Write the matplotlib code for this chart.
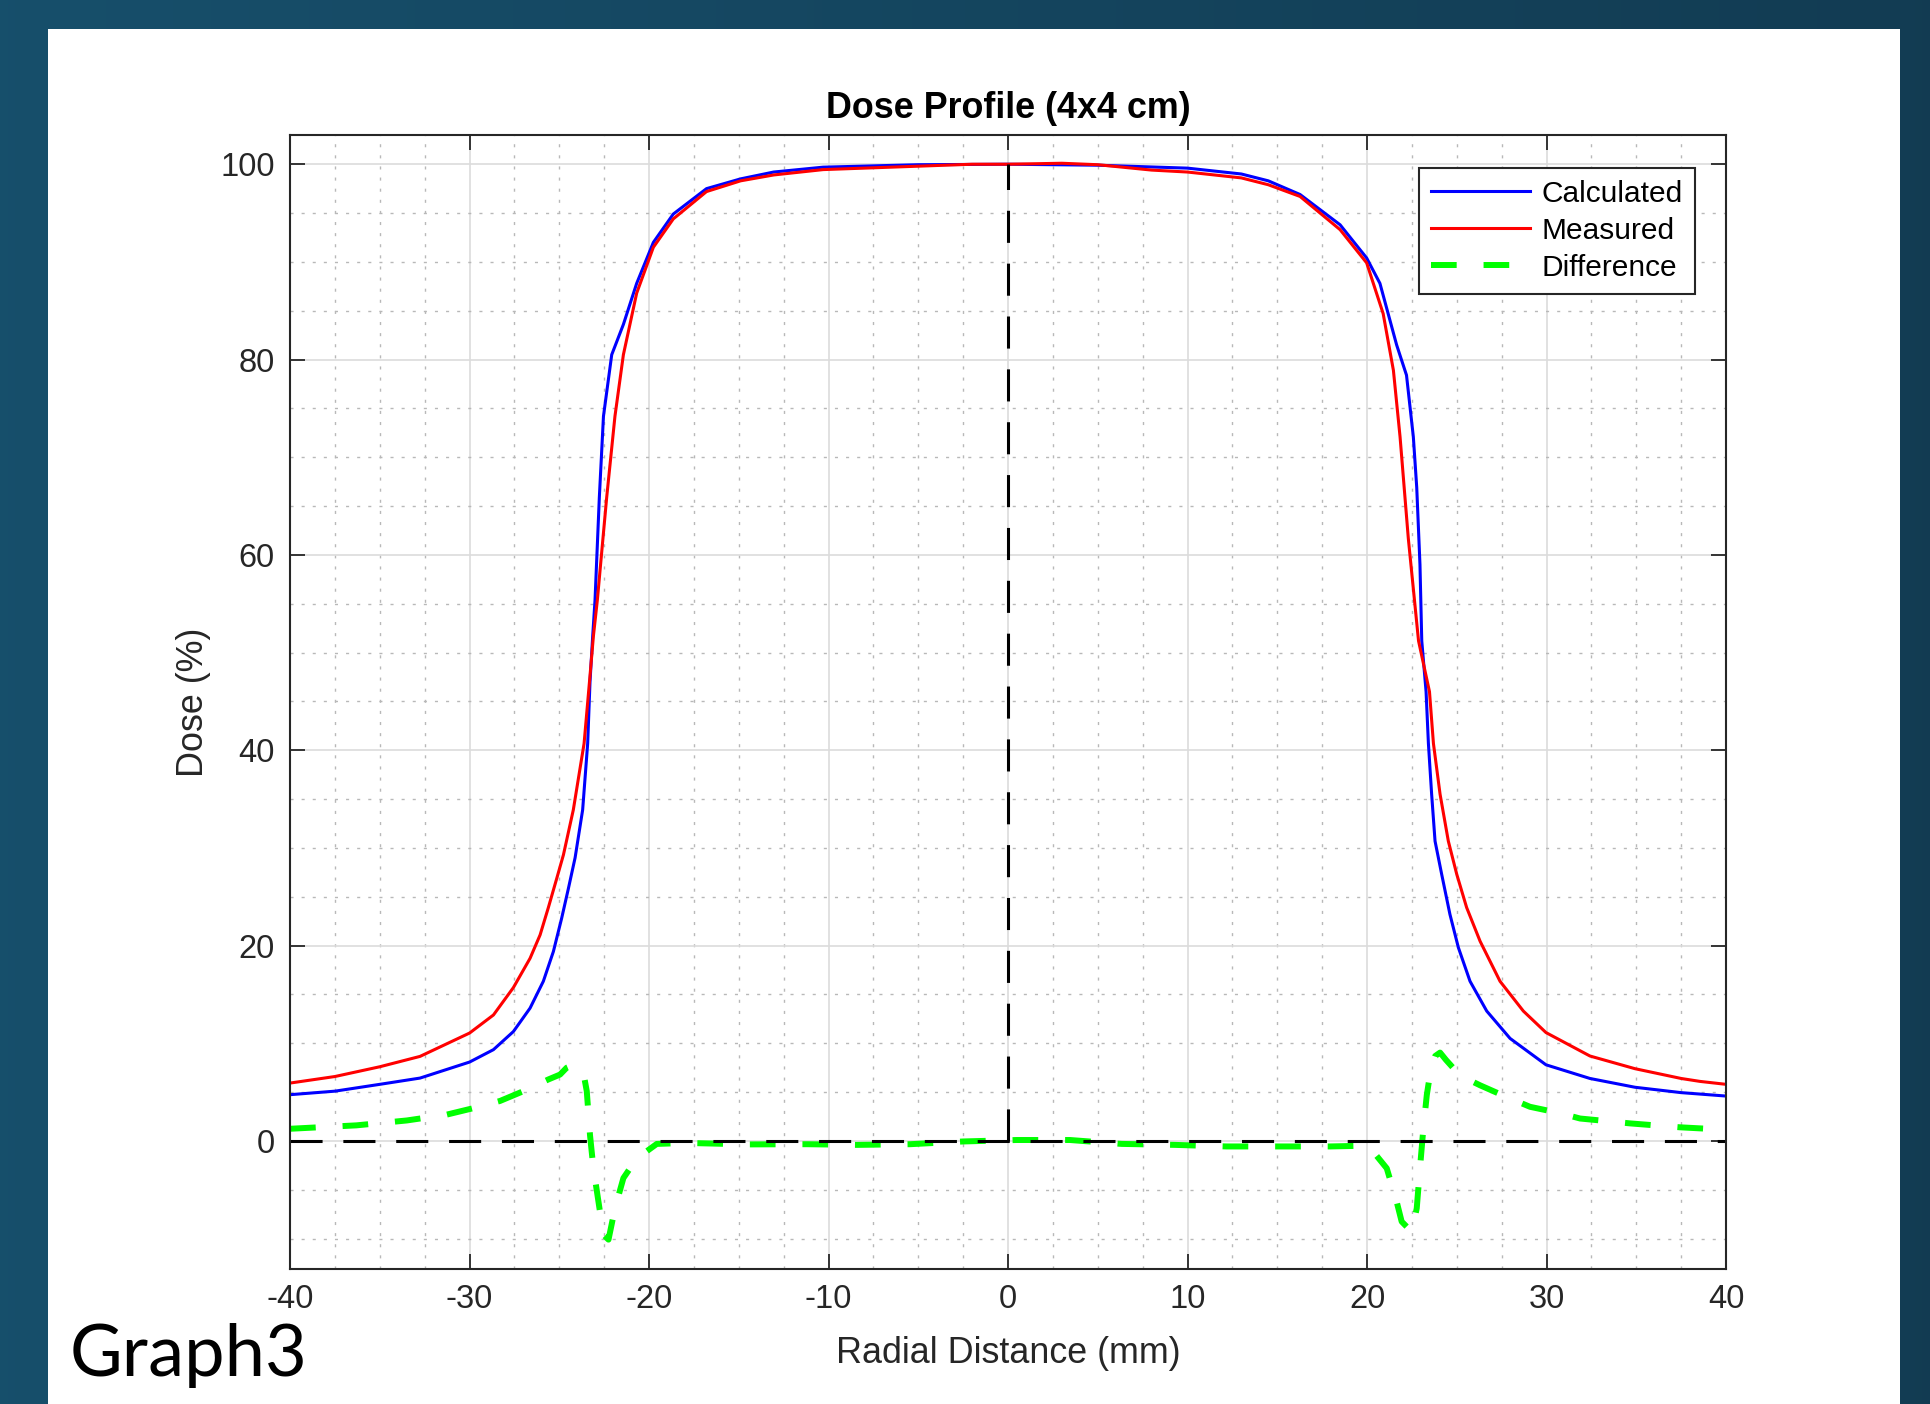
import numpy as np
import matplotlib.pyplot as plt
from matplotlib.patches import Rectangle
from matplotlib.ticker import MultipleLocator

# values
calc_x = [-40, -37.5, -35, -32.76, -30, -28.67, -27.56, -26.63, -25.89, -25.33,
          -24.87, -24.5, -24.12, -23.7, -23.42, -23.29, -23.14, -23.01, -22.77,
          -22.54, -22.08, -21.43, -20.69, -19.76, -18.65, -16.8, -14.9, -13.06,
          -10.3, -5, 0, 5, 10, 13, 14.5, 16.27, 18.5, 19.98, 20.72, 21.65, 22.2,
          22.58, 22.77, 22.95, 23.05, 23.29, 23.42, 23.6, 23.79, 24.16, 24.62,
          25.09, 25.74, 26.67, 27.97, 29.97, 32.42, 34.93, 37.5, 40]
calc_y = [4.74, 5.1, 5.8, 6.44, 8.08, 9.35, 11.2, 13.6, 16.35, 19.4,
          22.8, 25.8, 29.0, 33.9, 40.7, 47.0, 51.7, 55.4, 65.9,
          74.2, 80.5, 83.6, 87.8, 92.0, 94.9, 97.5, 98.5, 99.2,
          99.7, 99.95, 100, 99.9, 99.6, 99.0, 98.3, 96.9, 93.8, 90.4, 87.8, 81.5, 78.4,
          72.1, 66.9, 59.0, 51.2, 46.0, 40.7, 35.5, 30.7, 27.3, 23.2,
          19.8, 16.35, 13.3, 10.5, 7.8, 6.4, 5.5, 4.95, 4.6]

meas_x = [-40, -37.5, -35, -32.76, -30, -28.67, -27.56, -26.63, -26.07, -25.61,
          -25.14, -24.77, -24.22, -23.62, -23.32, -23.1, -22.88, -22.36, -21.9,
          -21.43, -20.69, -19.76, -18.65, -16.8, -14.9, -13.06, -10.3, -5, -2, 0,
          3, 5, 8, 10, 13, 14.5, 16.27, 18.5, 19.98, 20.9, 21.47, 21.84, 22.3,
          22.87, 23.48, 23.7, 24.07, 24.53, 25.0, 25.55, 26.3, 27.41, 28.71,
          29.97, 32.42, 34.93, 37.5, 38.55, 40]
meas_y = [5.93, 6.6, 7.6, 8.66, 11.05, 12.9, 15.7, 18.7, 21.1, 23.9,
          26.9, 29.3, 33.9, 40.7, 47.0, 51.7, 55.4, 65.9, 74.2,
          80.5, 86.8, 91.5, 94.4, 97.2, 98.3, 98.9, 99.45, 99.8, 100, 100,
          100.1, 99.95, 99.4, 99.2, 98.6, 97.9, 96.7, 93.3, 89.9, 84.7, 78.9, 72.1, 61.7,
          51.2, 46.0, 40.7, 35.5, 30.7, 27.3, 23.9, 20.45, 16.35, 13.3,
          11.1, 8.7, 7.4, 6.4, 6.1, 5.8]

diff_x = [-40, -36.3, -33.5, -31.27, -29.79, -28.3, -27.0, -25.61, -24.96, -24.59,
          -24.2, -23.84, -23.66, -23.47, -23.29, -23.1, -22.82, -22.54, -22.26,
          -21.9, -21.43, -20.69, -19.57, -17.9, -14.5, -11.2, -8.43, -5.46, -2.5,
          0.48, 3.45, 6.33, 9.3, 12.18, 15.15, 17.94, 19.5, 20.26, 21.1, 21.65,
          21.93, 22.49, 22.77, 22.95, 23.14, 23.33, 23.55, 23.8, 24.07, 24.4,
          25.18, 26.3, 27.78, 29.08, 30.75, 31.87, 33.0, 34.66, 37.44, 40]
diff_y = [1.25, 1.6, 2.1, 2.7, 3.36, 4.1, 5.1, 6.3, 6.8, 7.5,
          7.8, 7.4, 7.0, 5.1, 0.6, -2.8, -6.2, -9.6, -10.1,
          -6.9, -3.8, -1.8, -0.3, -0.2, -0.35, -0.33, -0.4, -0.33, -0.05,
          0.1, 0.1, -0.3, -0.4, -0.56, -0.56, -0.56, -0.5, -0.9, -2.8, -6.2,
          -8.25, -9.3, -6.9, -2.8, 1.3, 4.7, 7.3, 8.7, 9.05, 8.3,
          6.7, 5.7, 4.5, 3.5, 2.85, 2.3, 2.1, 1.8, 1.4, 1.15]

x_range = (-40, 40)
center_top = 100

plt.rcParams['font.family'] = ['Liberation Sans', 'DejaVu Sans']
plt.rcParams['axes.unicode_minus'] = False

fig = plt.figure(figsize=(19.3, 14.04), dpi=100)

# slide background: dark teal gradient
bg = fig.add_axes([0, 0, 1, 1], zorder=-2)
t = np.linspace(0, 1, 256)
left_c = np.array([0.090, 0.310, 0.420])
right_c = np.array([0.072, 0.235, 0.325])
grad = left_c[None, :] * (1 - t[:, None]) + right_c[None, :] * t[:, None]
bg.imshow(grad[None, :, :], aspect='auto', extent=[0, 1, 0, 1])
bg.axis('off')

fig.add_artist(Rectangle((0.0249, 0), 0.9596, 0.979, transform=fig.transFigure,
                         facecolor='white', edgecolor='none', zorder=-1))

ax = fig.add_axes([0.1503, 0.0962, 0.744, 0.8077])
ax.plot(calc_x, calc_y, color='#0000ff', lw=2.2, label='Calculated')
ax.plot(meas_x, meas_y, color='#ff0000', lw=2.2, label='Measured')
ax.plot(diff_x, diff_y, color='#00ff00', lw=4.3, dashes=(4.3, 4.5), label='Difference')
ax.plot(x_range, [0, 0], color='black', lw=2.2, dashes=(10.5, 6.8))
ax.plot([0, 0], [0, center_top], color='black', lw=2.2, dashes=(10.5, 6.8))

ax.set_xlim(*x_range)
ax.set_ylim(-13.1, 103)
ax.xaxis.set_major_locator(MultipleLocator(10))
ax.xaxis.set_minor_locator(MultipleLocator(2.5))
ax.yaxis.set_major_locator(MultipleLocator(20))
ax.yaxis.set_minor_locator(MultipleLocator(5))
ax.set_axisbelow(True)
ax.grid(which='major', color='#dcdcdc', lw=1.2, ls='-')
ax.grid(which='minor', color='#b8b8b8', lw=1.0, ls=(0, (2.2, 5.8)))

ax.tick_params(which='major', direction='in', length=11, width=1.3, top=True,
               right=True, labelsize=23.5, pad=11, colors='#262626')
ax.tick_params(which='minor', length=0)
for s in ax.spines.values():
    s.set_color('#262626')
    s.set_linewidth(1.5)

ax.set_title('Dose Profile (4x4 cm)', fontsize=25.8, fontweight='bold', pad=12)
ax.set_xlabel('Radial Distance (mm)', fontsize=25.8, color='#262626', labelpad=15)
ax.set_ylabel('Dose (%)', fontsize=25.8, color='#262626', labelpad=7)

leg = ax.legend(loc='upper right', bbox_to_anchor=(0.9784, 0.9709), borderaxespad=0,
                fontsize=21.5, handlelength=3.3, labelspacing=0.3, fancybox=False,
                framealpha=1, edgecolor='#262626', borderpad=0.4, handletextpad=0.4)
leg.get_frame().set_linewidth(1.5)

fig.text(0.036, 0.02, 'Graph3', fontsize=52, family=['Lato', 'DejaVu Sans'],
         color='black', va='baseline')

fig.savefig('out.png', dpi=100)
